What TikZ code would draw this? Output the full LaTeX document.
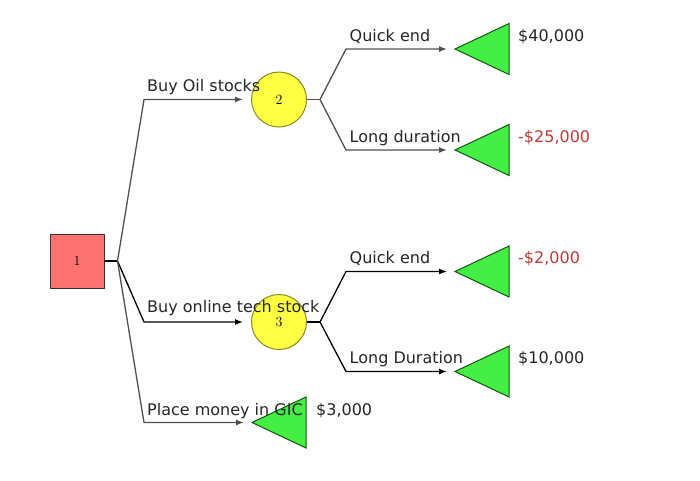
\documentclass[tikz,border=0pt]{standalone}
\usepackage{fontspec}
\newfontfamily\labfont{DejaVu Sans}
\usetikzlibrary{shapes.geometric,arrows.meta}
\definecolor{sqred}{HTML}{FF7272}
\definecolor{cyel}{HTML}{FFFF44}
\definecolor{cyeld}{HTML}{8A8A22}
\definecolor{tgreen}{HTML}{44EE44}
\definecolor{tgreend}{HTML}{115511}
\definecolor{lossred}{HTML}{C03A36}
\definecolor{lgray}{HTML}{505050}
\tikzset{
  decbox/.style={draw=black!80, fill=sqred, minimum size=54pt, inner sep=0pt, line width=1pt, font=\fontsize{14}{16}\selectfont},
  chance/.style={circle, draw=cyeld, fill=cyel, minimum size=55pt, inner sep=0pt, line width=1pt, font=\fontsize{14}{16}\selectfont},
  payoff/.style={isosceles triangle, isosceles triangle stretches, shape border rotate=180, minimum width=51pt, minimum height=54pt, inner sep=0pt, outer sep=0pt, draw=tgreend, fill=tgreen, line width=1pt},
  lab/.style={font=\labfont\fontsize{16}{19}\selectfont, text=black!85, inner sep=0pt, anchor=base west},
  loss/.style={lab, text=lossred},
  edge/.style={line width=1.3pt, color=#1, line join=round},
  arr/.style={edge=#1, -{Latex[length=8pt,width=6pt]}, shorten >=8pt}
}
\begin{document}
\begin{tikzpicture}[x=1pt,y=-1pt]
\useasboundingbox (0,0) rectangle (700,480);
% nodes
\node[decbox] (n1) at (77,261) {1};
\node[chance] (c2) at (279,99.5) {2};
\node[chance] (c3) at (279,322) {3};
\node[payoff, anchor=apex] (t1) at (455,49) {};
\node[payoff, anchor=apex] (t2) at (455,150) {};
\node[payoff, anchor=apex] (t3) at (455,271.5) {};
\node[payoff, anchor=apex] (t4) at (455,371.5) {};
\node[payoff, anchor=apex] (t5) at (252,422.5) {};
% junction coordinates
\coordinate (j1) at (117.5,261);
\coordinate (b1) at (144,99.5);
\coordinate (b2) at (144,322);
\coordinate (b3) at (144,422.5);
\coordinate (j2) at (320,99.5);
\coordinate (b4) at (346,49);
\coordinate (b5) at (346,150);
\coordinate (j3) at (320,322);
\coordinate (b6) at (346,271.5);
\coordinate (b7) at (346,371.5);
% connectors from decision node
\draw[edge=black] (n1.east) -- (j1);
\draw[arr=lgray] (j1) -- (b1) -- (c2.west);
\draw[arr=black] (j1) -- (b2) -- (c3.west);
\draw[arr=lgray] (j1) -- (b3) -- (t5.apex);
% connectors from chance 2
\draw[edge=lgray] (c2.east) -- (j2);
\draw[arr=lgray] (j2) -- (b4) -- (t1.apex);
\draw[arr=lgray] (j2) -- (b5) -- (t2.apex);
% connectors from chance 3
\draw[edge=black] (c3.east) -- (j3);
\draw[arr=black] (j3) -- (b6) -- (t3.apex);
\draw[arr=black] (j3) -- (b7) -- (t4.apex);
% labels
\node[lab] (l1) at (147,91) {Buy Oil stocks};
\node[lab] (l2) at (147,312.5) {Buy online tech stock};
\node[lab] (l3) at (147,415) {Place money in GIC};
\node[lab] (l4) at (349.5,41) {Quick end};
\node[lab] (l5) at (349.5,142) {Long duration};
\node[lab] (l6) at (349.5,263) {Quick end};
\node[lab] (l7) at (349.5,363.5) {Long Duration};
\node[lab] (v1) at (518,41.5) {\$40,000};
\node[loss] (v2) at (518,142.5) {-\$25,000};
\node[loss] (v3) at (518,263.5) {-\$2,000};
\node[lab] (v4) at (518,363.5) {\$10,000};
\node[lab] (v5) at (316,415) {\$3,000};
\end{tikzpicture}
\end{document}
